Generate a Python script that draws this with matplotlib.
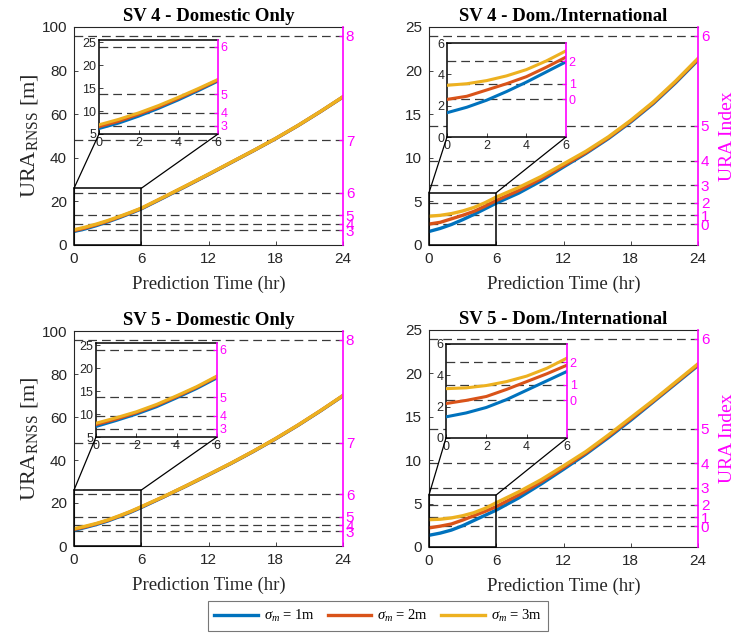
import matplotlib
matplotlib.use("Agg")
import matplotlib.pyplot as plt
from matplotlib.patches import Rectangle, ConnectionPatch

plt.rcParams['mathtext.fontset'] = 'custom'
plt.rcParams['mathtext.rm'] = 'Liberation Serif'
plt.rcParams['mathtext.it'] = 'Liberation Serif:italic'

# prediction time (hr)
t = [0, 1, 2, 3, 4, 5, 6, 8, 10, 12, 14, 16, 18, 20, 22, 24]

# URA thresholds (m) and their index
ura_thr = [2.4, 3.4, 4.85, 6.85, 9.65, 13.65, 24.0, 48.0, 96.0]
ura_idx = [0, 1, 2, 3, 4, 5, 6, 7, 8]

# SV 4 - Domestic Only
sv4_dom_1 = [6.2, 7.4, 8.9, 10.6, 12.45, 14.45, 16.55, 21.7, 26.95, 32.3, 37.75, 43.2, 48.8, 54.8, 61.2, 67.9]
sv4_dom_2 = [6.6, 7.8, 9.3, 10.9, 12.75, 14.7, 16.75, 21.9, 27.1, 32.4, 37.85, 43.25, 48.85, 54.85, 61.25, 67.95]
sv4_dom_3 = [7.0, 8.2, 9.6, 11.2, 13.0, 14.9, 16.9, 22.0, 27.2, 32.5, 37.9, 43.3, 48.9, 54.9, 61.3, 68.0]

# SV 4 - Dom./International
sv4_int_1 = [1.55, 1.9, 2.35, 2.9, 3.5, 4.15, 4.8, 5.95, 7.35, 8.95, 10.5, 12.2, 14.1, 16.2, 18.6, 21.2]
sv4_int_2 = [2.4, 2.6, 3.0, 3.4, 3.85, 4.45, 5.1, 6.25, 7.6, 9.1, 10.6, 12.3, 14.2, 16.3, 18.7, 21.3]
sv4_int_3 = [3.3, 3.4, 3.6, 3.9, 4.3, 4.85, 5.5, 6.6, 7.85, 9.3, 10.75, 12.4, 14.3, 16.4, 18.8, 21.4]

# SV 5 - Domestic Only
sv5_dom_1 = [7.3, 8.6, 10.0, 11.6, 13.55, 15.6, 17.9, 22.8, 27.85, 33.05, 38.35, 43.95, 49.85, 56.15, 62.85, 69.85]
sv5_dom_2 = [7.7, 8.9, 10.3, 11.9, 13.8, 15.85, 18.15, 22.9, 27.95, 33.15, 38.45, 44.05, 49.95, 56.25, 62.95, 69.95]
sv5_dom_3 = [8.0, 9.2, 10.5, 12.1, 14.0, 16.0, 18.3, 23.0, 28.0, 33.2, 38.5, 44.1, 50.0, 56.3, 63.0, 70.0]

# SV 5 - Dom./International
sv5_int_1 = [1.35, 1.6, 1.95, 2.45, 3.05, 3.65, 4.25, 5.65, 7.25, 8.95, 10.7, 12.6, 14.6, 16.7, 18.8, 20.9]
sv5_int_2 = [2.2, 2.4, 2.65, 3.1, 3.6, 4.1, 4.65, 6.0, 7.5, 9.15, 10.85, 12.75, 14.75, 16.8, 18.9, 21.0]
sv5_int_3 = [3.15, 3.2, 3.35, 3.6, 3.95, 4.45, 5.1, 6.35, 7.75, 9.35, 11.0, 12.9, 14.9, 16.9, 19.0, 21.1]

labels = [r'$\sigma_m$ = 1m', r'$\sigma_m$ = 2m', r'$\sigma_m$ = 3m']
colors = ['#0072BD', '#D95319', '#EDB120']
MAG = '#FF00FF'
TXT = '#262626'
DASH = '#3a3a3a'
SERIF = 'Liberation Serif'
SANS = 'Liberation Sans'

panels = [
    ("SV 4 - Domestic Only", [sv4_dom_1, sv4_dom_2, sv4_dom_3], True,
     [74, 27, 343, 245], [99, 40, 218, 134]),
    ("SV 4 - Dom./International", [sv4_int_1, sv4_int_2, sv4_int_3], False,
     [429, 27, 698, 245], [447, 43, 566, 137]),
    ("SV 5 - Domestic Only", [sv5_dom_1, sv5_dom_2, sv5_dom_3], True,
     [74, 331, 343, 546], [96, 343, 217, 437]),
    ("SV 5 - Dom./International", [sv5_int_1, sv5_int_2, sv5_int_3], False,
     [429, 330, 698, 547], [446, 344, 567, 438]),
]

W, H = 736, 633
fig = plt.figure(figsize=(W / 100, H / 100), dpi=100)


def frac(box):
    x0, y0, x1, y1 = box
    return [x0 / W, 1 - y1 / H, (x1 - x0) / W, (y1 - y0) / H]


def style_axes(ax, ylim, sel, fs, pad):
    ax.tick_params(direction='in', length=3, width=0.6, colors=TXT, labelsize=fs,
                   top=False, pad=pad)
    for lab in ax.get_xticklabels() + ax.get_yticklabels():
        lab.set_family(SANS)
    for s in ['left', 'top', 'bottom']:
        ax.spines[s].set_color('#262626')
        ax.spines[s].set_linewidth(0.8)
    ax.spines['right'].set_visible(False)
    tw = ax.twinx()
    tw.set_ylim(ylim)
    tw.set_yticks([ura_thr[i] for i in sel])
    tw.set_yticklabels([str(ura_idx[i]) for i in sel], family=SANS)
    tw.tick_params(direction='in', length=3, width=0.8, colors=MAG, labelsize=fs, pad=2)
    tw.spines['right'].set_color(MAG)
    tw.spines['right'].set_linewidth(1.2)
    for s in ['left', 'top', 'bottom']:
        tw.spines[s].set_visible(False)
    return tw


handles = None
for title, series, dom, mbox, ibox in panels:
    ax = fig.add_axes(frac(mbox))
    ylim = (0, 100) if dom else (0, 25)
    sel = [3, 4, 5, 6, 7, 8] if dom else [0, 1, 2, 3, 4, 5, 6]
    for i in sel:
        ax.axhline(ura_thr[i], color=DASH, lw=0.9, ls=(0, (7, 4)), zorder=1)
    hs = []
    for y, c, lab in zip(series, colors, labels):
        h, = ax.plot(t, y, color=c, lw=2.4, label=lab, zorder=3)
        hs.append(h)
    handles = hs
    ax.set_xlim(0, 24)
    ax.set_ylim(ylim)
    ax.set_xticks([0, 6, 12, 18, 24])
    ax.set_yticks(range(0, 101, 20) if dom else range(0, 26, 5))
    style_axes(ax, ylim, sel, 11, 5)
    ax.set_title(title, family=SERIF, fontweight='bold', fontsize=13.5, pad=4)
    ax.set_xlabel("Prediction Time (hr)", family=SERIF, fontsize=13.5, color=TXT, labelpad=7)
    if dom:
        ax.set_ylabel(r"URA$_{\rm RNSS}$ [m]", family=SERIF, fontsize=16, color=TXT, labelpad=1)
    else:
        fig.text(728 / W, 1 - (mbox[1] + mbox[3]) / 2 / H, "URA Index", family=SERIF,
                 fontsize=14, color=MAG, rotation=90, ha='center', va='center')

    # zoom box
    rtop = 26 if dom else 6
    ax.add_patch(Rectangle((0, 0), 6, rtop, fill=False, ec='black', lw=1.1, zorder=5,
                           clip_on=False))

    ins = fig.add_axes(frac(ibox))
    iylim = (5, 25.5) if dom else (0, 6)
    isel = [3, 4, 5, 6] if dom else [0, 1, 2]
    for i in isel:
        ins.axhline(ura_thr[i], color=DASH, lw=0.9, ls=(0, (7, 4)), zorder=1)
    for y, c in zip(series, colors):
        ins.plot(t, y, color=c, lw=2.2, zorder=3)
    ins.set_xlim(0, 6)
    ins.set_ylim(iylim)
    ins.set_xticks([0, 2, 4, 6])
    ins.set_yticks(range(5, 26, 5) if dom else [0, 2, 4, 6])
    style_axes(ins, iylim, isel, 9, 2)
    for s in ['left', 'top', 'bottom']:
        ins.spines[s].set_color('black')
        ins.spines[s].set_linewidth(1.1)

    for xa, xb in [(0, 0), (6, 1)]:
        con = ConnectionPatch(xyA=(xa, rtop), coordsA=ax.transData,
                              xyB=(xb, 0), coordsB=ins.transAxes,
                              color='black', lw=0.9)
        fig.add_artist(con)

leg = fig.legend(handles, labels, loc='center', bbox_to_anchor=(378 / W, 1 - 616 / H),
                 ncol=3, frameon=True, fancybox=False, edgecolor='#555555',
                 prop={'family': SERIF, 'size': 10.5}, handlelength=3.0,
                 columnspacing=0.9, handletextpad=0.4, borderpad=0.45)
leg.get_frame().set_linewidth(0.8)

fig.savefig("out.png", dpi=100)
